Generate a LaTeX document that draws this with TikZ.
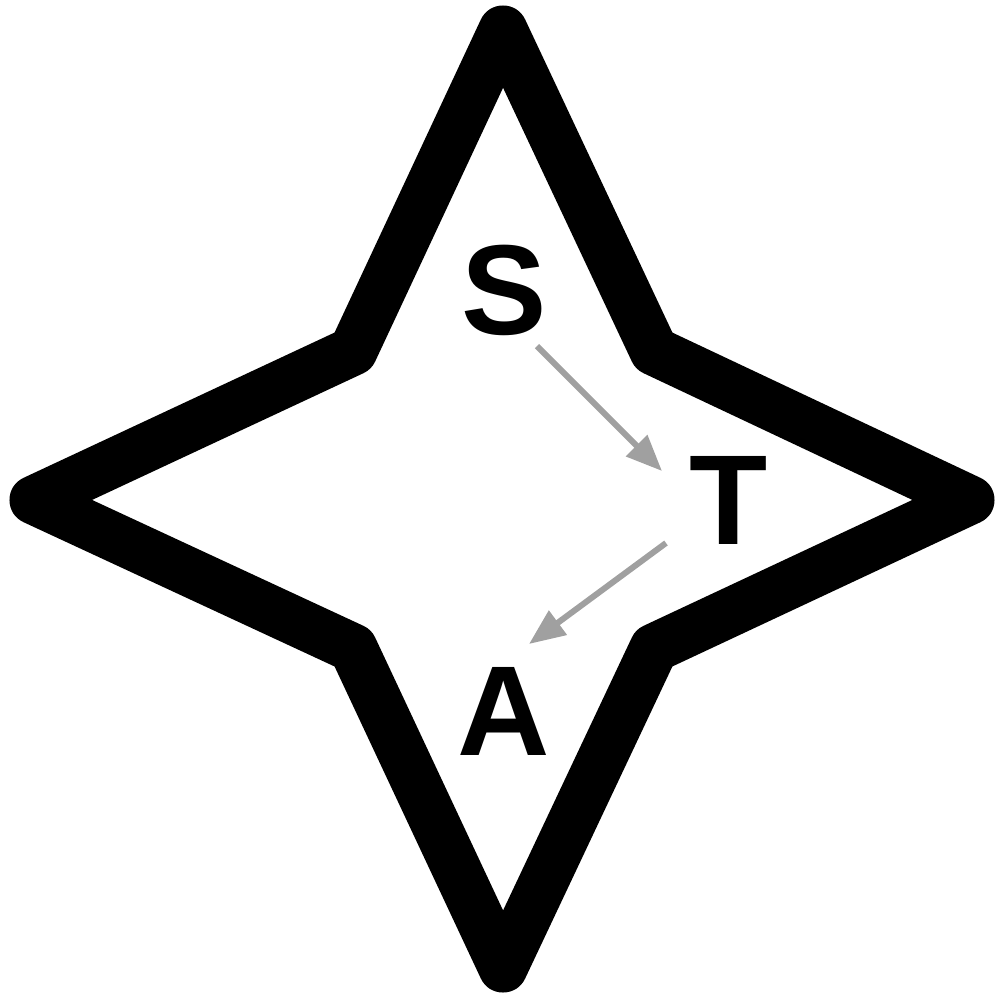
\documentclass[tikz,border=0pt]{standalone}
\usepackage{fontspec}
\setmainfont{Liberation Sans}
\usetikzlibrary{arrows.meta,calc}
\definecolor{arrgray}{HTML}{A0A0A0}
\tikzset{
  starline/.style={draw=black,line width=0.49cm,line join=round},
  letter/.style={inner sep=0pt,font=\fontsize{36.4}{40}\selectfont\bfseries},
  arr/.style={draw=arrgray,line width=0.06cm,-{Triangle[length=0.36cm,width=0.29cm]}}
}
\begin{document}
\begin{tikzpicture}[x=0.01cm,y=-0.01cm]
\useasboundingbox (0,0) rectangle (995,996);
\draw[starline] (503,30) -- (654,351) -- (970,500) -- (654,648) -- (503,968) -- (353,648) -- (34,500) -- (353,351) -- cycle;
\node[letter] (S) at (504,290) {S};
\node[letter] (T) at (729,500) {T};
\node[letter] (A) at (504,711) {A};
\draw[arr] ($(S)+(33,56)$) -- ($(T)+(-67,-29)$);
\draw[arr] ($(T)+(-63,43)$) -- ($(A)+(25,-67)$);
\end{tikzpicture}
\end{document}
